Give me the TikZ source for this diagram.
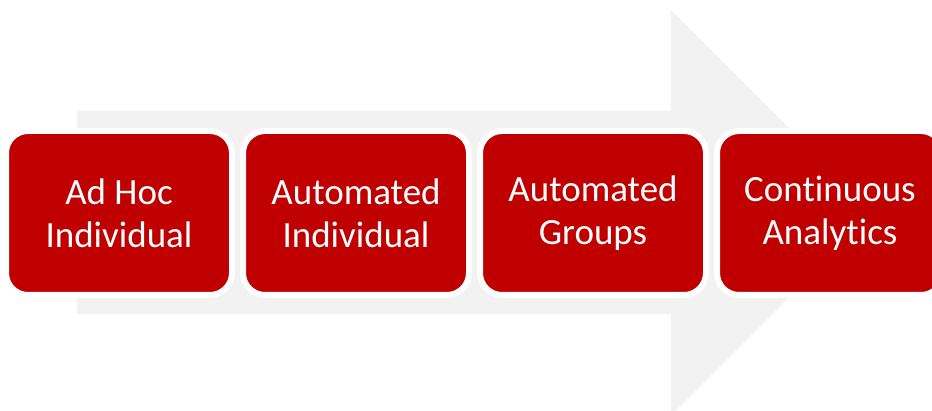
\documentclass[tikz,border=0pt]{standalone}
\usepackage{fontspec}
\setmainfont{Carlito}[Ligatures={NoCommon}]
\definecolor{boxred}{HTML}{C00000}
\definecolor{arrowgray}{HTML}{F2F2F2}
\tikzset{
  stagebox/.style={rectangle, rounded corners=22pt, fill=boxred, draw=white, line width=6pt,
    minimum width=226pt, minimum height=164pt, inner sep=0pt, align=center,
    text=white, font=\fontsize{37}{43}\selectfont}
}
\begin{document}
\begin{tikzpicture}[x=1pt,y=1pt]
\useasboundingbox (0,0) rectangle (932,411);
\fill[white] (0,0) rectangle (932,411);
\clip (0,0) rectangle (932,411);
\fill[arrowgray] (77,300) -- (671,300) -- (671,401) -- (873.5,198.5) -- (671,-4) -- (671,97) -- (77,97) -- cycle;
\node[stagebox] (s1) at (119,198) {Ad Hoc\\Individual};
\node[stagebox] (s2) at (356,198) {Automated\\Individual};
\node[stagebox] (s3) at (593,198) {Automated\\Groups};
\node[stagebox] (s4) at (830,198) {Continuous\\Analytics};
\end{tikzpicture}
\end{document}
